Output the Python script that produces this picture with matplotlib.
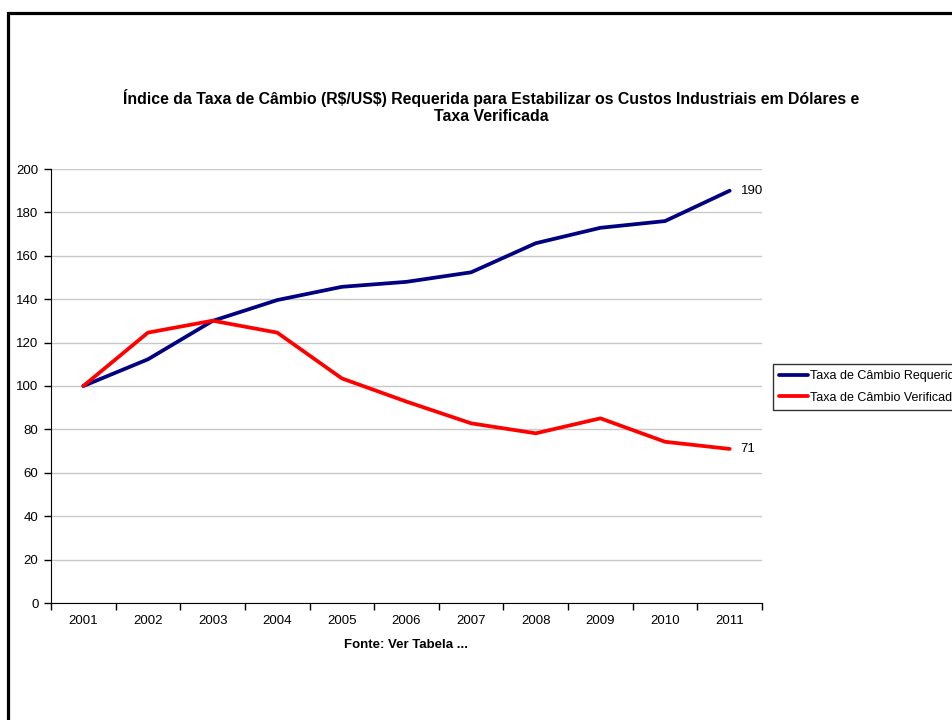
import matplotlib
matplotlib.use("Agg")
import matplotlib.pyplot as plt
from matplotlib.patches import Rectangle

plt.rcParams['font.family'] = ['Liberation Sans', 'DejaVu Sans']

# data
years = ['2001', '2002', '2003', '2004', '2005', '2006', '2007', '2008', '2009', '2010', '2011']
taxa_requerida = [100, 112.3, 130, 139.6, 145.7, 148, 152.4, 165.8, 172.9, 176, 190]
taxa_verificada = [100, 124.6, 130.1, 124.6, 103.5, 92.8, 82.8, 78.2, 85.1, 74.3, 71]
label_requerida = 'Taxa de Câmbio Requerida'
label_verificada = 'Taxa de Câmbio Verificada'
y_ticks = list(range(0, 201, 20))

fig = plt.figure(figsize=(9.52, 7.2), dpi=100)
ax = fig.add_axes([51 / 952, 1 - 603 / 720, 711 / 952, 434 / 720])

x = list(range(len(years)))
ax.plot(x, taxa_requerida, color='#000080', lw=2.7, label=label_requerida, solid_capstyle='round')
ax.plot(x, taxa_verificada, color='#FF0000', lw=2.7, label=label_verificada, solid_capstyle='round')

# end-of-line data labels
ax.annotate(f'{taxa_requerida[-1]:.0f}', (x[-1], taxa_requerida[-1]), xytext=(8, 0),
            textcoords='offset points', va='center', ha='left', fontsize=9.5)
ax.annotate(f'{taxa_verificada[-1]:.0f}', (x[-1], taxa_verificada[-1]), xytext=(8, 0),
            textcoords='offset points', va='center', ha='left', fontsize=9.5)

ax.set_xlim(-0.5, len(years) - 0.5)
ax.set_ylim(0, 200)
ax.set_yticks(y_ticks)
ax.yaxis.grid(True, color='#c8c8c8', lw=1)
ax.set_axisbelow(True)

# ticks between categories, labels at the centres
ax.set_xticks([i - 0.5 for i in range(len(years) + 1)])
ax.set_xticklabels([])
ax.set_xticks(x, minor=True)
ax.set_xticklabels(years, minor=True)
ax.tick_params(axis='x', which='major', direction='out', length=5, width=1)
ax.tick_params(axis='x', which='minor', length=0, pad=9, labelsize=9.5)
ax.tick_params(axis='y', direction='out', length=5, width=1, pad=4, labelsize=9.5)

for side in ['top', 'right']:
    ax.spines[side].set_visible(False)
ax.spines['left'].set_color('black')
ax.spines['bottom'].set_color('black')

fig.text(491 / 952, 1 - 106.5 / 720,
         'Índice da Taxa de Câmbio (R\\$/US\\$) Requerida para Estabilizar os Custos Industriais em Dólares e\nTaxa Verificada',
         ha='center', va='center', fontsize=11.4, fontweight='bold', linespacing=1.1)
fig.text(406 / 952, 1 - 645 / 720, 'Fonte: Ver Tabela ...', ha='center', va='center',
         fontsize=9.5, fontweight='bold')

leg = fig.legend(loc='upper left', bbox_to_anchor=(773 / 952, 1 - 364 / 720), fontsize=9,
                 frameon=True, fancybox=False, edgecolor='black', handlelength=2.3,
                 handletextpad=0.2, borderpad=0.5, labelspacing=0.75, borderaxespad=0)
leg.get_frame().set_linewidth(1)

# outer frame, running off the right and bottom edges
fig.patches.append(Rectangle((8 / 952, -0.1), 1.2, 1 - 12.5 / 720 + 0.1, transform=fig.transFigure,
                             fill=False, edgecolor='black', lw=2.3))

fig.savefig('out.png', dpi=100)
